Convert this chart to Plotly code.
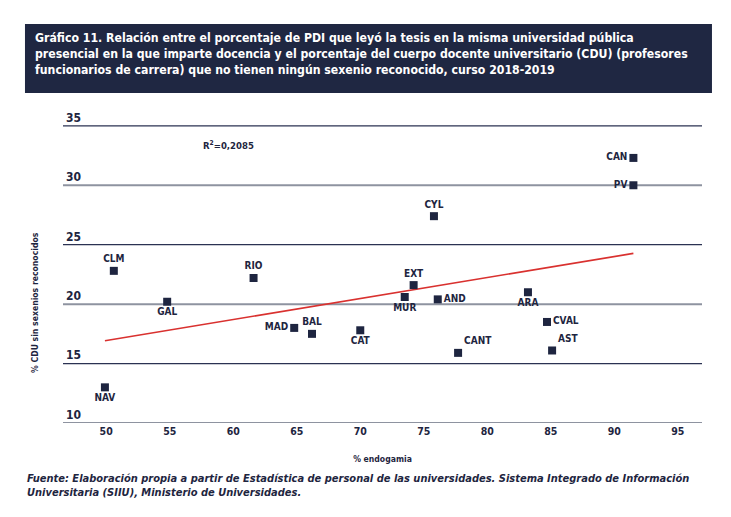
import numpy as np
import plotly.graph_objects as go

# Data
regiones = ['CLM', 'NAV', 'GAL', 'RIO', 'MAD', 'BAL', 'CAT', 'CYL', 'EXT', 'MUR',
            'AND', 'CANT', 'ARA', 'CVAL', 'AST', 'CAN', 'PV']
endogamia = [50.6, 49.9, 54.8, 61.6, 64.8, 66.2, 70.0, 75.8, 74.2, 73.5,
             76.1, 77.7, 83.2, 84.7, 85.1, 91.5, 91.5]
sin_sexenio = [22.8, 13.0, 20.2, 22.2, 18.0, 17.5, 17.8, 27.4, 21.6, 20.6,
               20.4, 15.9, 21.0, 18.5, 16.1, 32.3, 30.0]
posiciones = ['top center', 'bottom center', 'bottom center', 'top center', 'middle left',
              'top center', 'bottom center', 'top center', 'top center', 'bottom center',
              'middle right', 'top right', 'bottom center', 'middle right', 'top right',
              'middle left', 'middle left']
y_ticks = [10, 15, 20, 25, 30, 35]
x_ticks = [50, 55, 60, 65, 70, 75, 80, 85, 90, 95]

NAVY = '#1e2540'
FONT = 'DejaVu Sans Condensed, Liberation Sans Narrow, sans-serif'

# linear trend
m, b = np.polyfit(endogamia, sin_sexenio, 1)
xt = np.array([min(endogamia), max(endogamia)])

fig = go.Figure()

fig.add_trace(go.Scatter(x=xt, y=m * xt + b, mode='lines',
                         line=dict(color='#d9312f', width=1.6),
                         hoverinfo='skip', showlegend=False))

fig.add_trace(go.Scatter(x=endogamia, y=sin_sexenio, mode='markers+text',
                         text=regiones, textposition=posiciones,
                         textfont=dict(family=FONT, size=10, color=NAVY, weight='bold'),
                         marker=dict(symbol='square', size=8, color=NAVY),
                         showlegend=False))

# gridlines alternating grey / dark
for i, v in enumerate(y_ticks):
    fig.add_hline(y=v, line=dict(color='#8e93a0' if i % 2 == 0 else '#2b3252',
                                 width=2 if i % 2 == 0 else 1.2), layer='below')

# title box
fig.add_shape(type='rect', xref='paper', yref='paper', x0=-0.0595, x1=1.0156, y0=1.048, y1=1.267,
              fillcolor='#1f2742', line=dict(width=0))
fig.add_annotation(xref='paper', yref='paper', x=-0.047, y=1.25, xanchor='left', yanchor='top',
                   align='left', showarrow=False,
                   text='Gráfico 11. Relación entre el porcentaje de PDI que leyó la tesis en la misma universidad pública<br>'
                        'presencial en la que imparte docencia y el porcentaje del cuerpo docente universitario (CDU) (profesores<br>'
                        'funcionarios de carrera) que no tienen ningún sexenio reconocido, curso 2018-2019',
                   font=dict(family=FONT, size=12.2, color='white', weight='bold'))

fig.add_annotation(x=59.6, y=33.4, showarrow=False, text='R<sup>2</sup>=0,2085',
                   font=dict(family=FONT, size=9.5, color=NAVY, weight='bold'))

# y axis title (sits low, as in the original)
fig.add_annotation(xref='paper', yref='paper', x=-0.055, y=0.384, textangle=-90, showarrow=False,
                   text='% CDU sin sexenios reconocidos',
                   font=dict(family=FONT, size=8.6, color=NAVY, weight='bold'))

# source note
fig.add_annotation(xref='paper', yref='paper', x=-0.06, y=-0.15, xanchor='left', yanchor='top',
                   align='left', showarrow=False,
                   text='<i>Fuente: Elaboración propia a partir de Estadística de personal de las universidades. Sistema Integrado de Información<br>'
                        'Universitaria (SIIU), Ministerio de Universidades.</i>',
                   font=dict(family=FONT, size=11, color=NAVY, weight='bold'))

fig.update_layout(
    width=715, height=501,
    margin=dict(l=55, r=21, t=100, b=86),
    plot_bgcolor='white', paper_bgcolor='white',
    font=dict(family=FONT, color=NAVY, weight='bold'),
    xaxis=dict(range=[46.6, 96.9], tickvals=x_ticks, showgrid=False, zeroline=False,
               showline=False, automargin=False, tickfont=dict(size=10.5, color=NAVY, weight='bold'),
               title=dict(text='% endogamia', font=dict(size=8.6, weight='bold'), standoff=20)),
    yaxis=dict(range=[10, 36.5], tickvals=y_ticks, showgrid=False, zeroline=False,
               showline=False, automargin=False, ticklabelposition='inside top',
               tickfont=dict(size=12, color=NAVY, weight='bold')),
)

fig.write_html('out.html')
